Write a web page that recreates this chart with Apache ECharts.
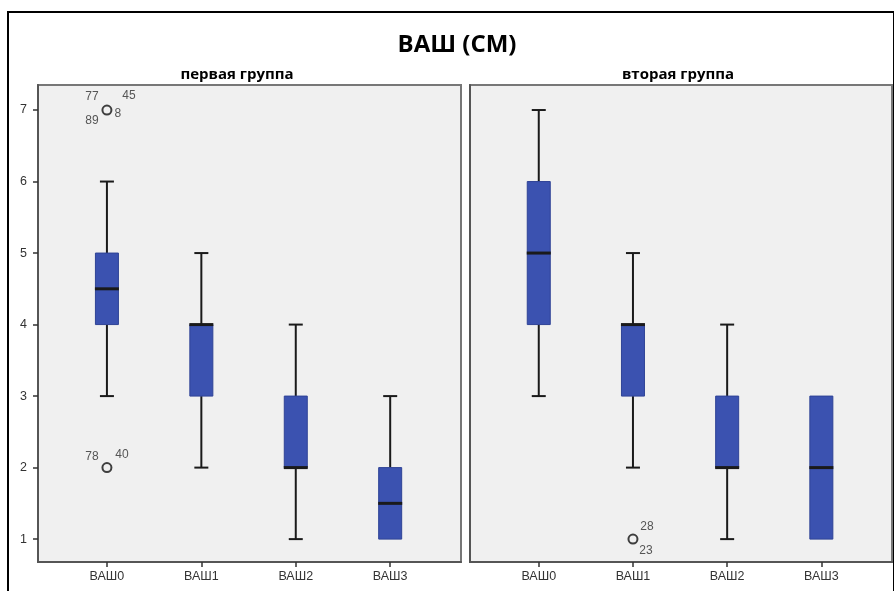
<!DOCTYPE html>
<html><head><meta charset="utf-8">
<script src="https://cdn.jsdelivr.net/npm/echarts@6/dist/echarts.min.js"></script>
<style>html,body{margin:0;padding:0;background:#fff}#c{width:894px;height:591px}</style>
</head><body><div id="c"></div><script>
const categories = ['ВАШ0','ВАШ1','ВАШ2','ВАШ3'];
const yTicks = [1,2,3,4,5,6,7];
const panelTitles = ['первая группа','вторая группа'];
// [min, Q1, median, Q3, max]
const group1Box = [[3,4,4.5,5,6],[2,3,4,4,5],[1,2,2,3,4],[1,1,1.5,2,3]];
const group2Box = [[3,4,5,6,7],[2,3,4,4,5],[1,2,2,3,4],[1,1,2,3,3]];
// [category index, value]
const group1Outliers = [[0,7],[0,2]];
const group2Outliers = [[1,1]];
const group1OutlierIds = [['77','45','89','8'],['78','40']];
const group2OutlierIds = [['28','23']];

// style: label offsets (px) per outlier label
const group1LabelOffsets = [[[-15,-13],[22,-14],[-15,11],[11,4]],[[-15,-11],[15,-13]]];
const group2LabelOffsets = [[[14,-12],[13,12]]];

const chart = echarts.init(document.getElementById('c'));
const FONT = 'Liberation Sans';

function boxRender(params, api){
  const x = api.value(0);
  const lo=api.value(1), q1=api.value(2), md=api.value(3), q3=api.value(4), hi=api.value(5);
  const pLo=api.coord([x,lo]), pQ1=api.coord([x,q1]), pMd=api.coord([x,md]), pQ3=api.coord([x,q3]), pHi=api.coord([x,hi]);
  const cx=pLo[0], bw=23, cw=14;
  const children=[];
  const line=(x1,y1,x2,y2,w)=>({type:'line',shape:{x1,y1,x2,y2},style:{stroke:'#1a1a1a',lineWidth:w}});
  if(hi>q3){ children.push(line(cx,pHi[1],cx,pQ3[1],2)); children.push(line(cx-cw/2,pHi[1],cx+cw/2,pHi[1],2)); }
  if(lo<q1){ children.push(line(cx,pQ1[1],cx,pLo[1],2)); children.push(line(cx-cw/2,pLo[1],cx+cw/2,pLo[1],2)); }
  children.push({type:'rect',shape:{x:cx-bw/2,y:pQ3[1],width:bw,height:pQ1[1]-pQ3[1]},style:{fill:'#3b52b0',stroke:'#2f4396',lineWidth:1}});
  children.push(line(cx-bw/2-0.5,pMd[1],cx+bw/2+0.5,pMd[1],3));
  return {type:'group',children};
}

function labelRenderFactory(ids, offsets){
  return function(params, api){
    const i = params.dataIndex;
    const p = api.coord([api.value(0), api.value(1)]);
    return {type:'group',children: ids[i].map((t,k)=>({
      type:'text',
      style:{text:t,x:p[0]+offsets[i][k][0],y:p[1]+offsets[i][k][1],align:'center',verticalAlign:'middle',
        fill:'#555',font:'12px "'+FONT+'"'}
    }))};
  };
}

const grids = [
  {left:38, width:423, top:85, bottom:29},
  {left:470, width:422, top:85, bottom:29}
];

function xAxisFor(gi){
  return {type:'value',gridIndex:gi,min:-0.73,max:3.75,
    axisLine:{show:true,onZero:false,lineStyle:{color:'#555',width:2}},
    axisTick:{show:true,customValues:[0,1,2,3],length:5,lineStyle:{color:'#333',width:1.5}},
    axisLabel:{customValues:[0,1,2,3],formatter:v=>categories[v],color:'#333',fontFamily:FONT,fontSize:12.5,margin:8},
    splitLine:{show:false}};
}
function yAxisFor(gi){
  return {type:'value',gridIndex:gi,min:0.68,max:7.35,
    axisLine:{show:true,onZero:false,lineStyle:{color:'#555',width:2}},
    axisTick:{show:gi===0,customValues:yTicks,length:5,lineStyle:{color:'#333',width:1.5}},
    axisLabel:{show:gi===0,customValues:yTicks,color:'#333',fontFamily:FONT,fontSize:12.5,margin:11},
    splitLine:{show:false}};
}

const outlierStyle = {symbol:'circle',symbolSize:9,itemStyle:{color:'#f0f0f0',borderColor:'#111',borderWidth:2}};

chart.setOption({
  animation:false,
  backgroundColor:'#fff',
  title:[
    {text:'ВАШ (СМ)',left:452,top:28,textAlign:'center',textStyle:{fontFamily:'Open Sans',fontWeight:'bold',fontSize:24,color:'#000'}},
    {text:panelTitles[0],left:232,top:62,textAlign:'center',textStyle:{fontFamily:'Open Sans',fontWeight:'bold',fontSize:15,color:'#000'}},
    {text:panelTitles[1],left:673,top:62,textAlign:'center',textStyle:{fontFamily:'Open Sans',fontWeight:'bold',fontSize:15,color:'#000'}}
  ],
  grid: grids.map(g=>Object.assign({show:true,backgroundColor:'#f0f0f0',borderColor:'#777',borderWidth:2},g)),
  xAxis:[xAxisFor(0),xAxisFor(1)],
  yAxis:[yAxisFor(0),yAxisFor(1)],
  graphic:[{type:'rect',shape:{x:8,y:12,width:886,height:600},style:{fill:'none',stroke:'#000',lineWidth:2},z:100}],
  series:[
    {type:'custom',xAxisIndex:0,yAxisIndex:0,renderItem:boxRender,data:group1Box.map((b,i)=>[i,...b]),z:2},
    {type:'custom',xAxisIndex:1,yAxisIndex:1,renderItem:boxRender,data:group2Box.map((b,i)=>[i,...b]),z:2},
    Object.assign({type:'scatter',xAxisIndex:0,yAxisIndex:0,data:group1Outliers,z:3},outlierStyle),
    Object.assign({type:'scatter',xAxisIndex:1,yAxisIndex:1,data:group2Outliers,z:3},outlierStyle),
    {type:'custom',xAxisIndex:0,yAxisIndex:0,renderItem:labelRenderFactory(group1OutlierIds,group1LabelOffsets),data:group1Outliers,z:4},
    {type:'custom',xAxisIndex:1,yAxisIndex:1,renderItem:labelRenderFactory(group2OutlierIds,group2LabelOffsets),data:group2Outliers,z:4}
  ]
});
</script></body></html>
